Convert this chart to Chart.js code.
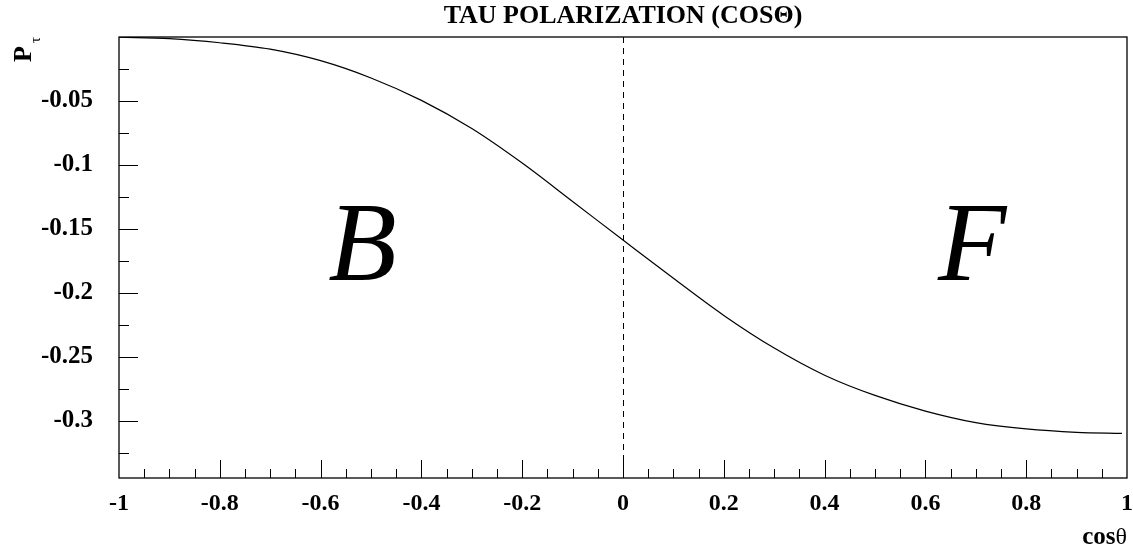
<!DOCTYPE html>
<html>
<head>
<meta charset="utf-8">
<title>Tau polarization</title>
<script src="https://cdn.jsdelivr.net/npm/chart.js@4/dist/chart.umd.min.js"></script>
<style>
  html, body { margin: 0; padding: 0; background: #fff; }
</style>
</head>
<body>
<canvas id="polChart" width="1133" height="552"></canvas>
<script>
// P_tau as a function of cos(theta)
const cosTheta = [-1, -0.9, -0.8, -0.7, -0.6, -0.5, -0.4, -0.3, -0.2, -0.1, 0,
                  0.1, 0.2, 0.3, 0.4, 0.5, 0.6, 0.7, 0.8, 0.9, 0.99];
const polarization = [-0.0002, -0.0013, -0.0045, -0.0095, -0.0185, -0.0320, -0.0495, -0.0715, -0.0985, -0.1285, -0.1586,
                      -0.1885, -0.2175, -0.2430, -0.2642, -0.2800, -0.2922, -0.3012, -0.3062, -0.3088, -0.3096];

const xTicks = [-1, -0.8, -0.6, -0.4, -0.2, 0, 0.2, 0.4, 0.6, 0.8, 1];
const xTickLabels = ["-1", "-0.8", "-0.6", "-0.4", "-0.2", "0", "0.2", "0.4", "0.6", "0.8", "1"];
const yTicks = [-0.05, -0.1, -0.15, -0.2, -0.25, -0.3];
const yTickLabels = ["-0.05", "-0.1", "-0.15", "-0.2", "-0.25", "-0.3"];

const SERIF = "'Liberation Serif', 'Times New Roman', serif";
const X_MIN = -1, X_MAX = 1, Y_MIN = -0.3445, Y_MAX = 0;

// frame, inward ticks, dashed zero line and the text around the plot
const framePlugin = {
  id: "frame",
  afterDatasetsDraw(chart) {
    const { ctx, chartArea: a, scales } = chart;
    const xs = scales.x, ys = scales.y;
    ctx.save();
    ctx.strokeStyle = "#000";

    // dashed line at cos = 0
    const x0 = Math.round(xs.getPixelForValue(0)) + 0.5;
    ctx.lineWidth = 1;
    ctx.setLineDash([6, 5]);
    ctx.beginPath();
    ctx.moveTo(x0, a.top);
    ctx.lineTo(x0, a.bottom);
    ctx.stroke();
    ctx.setLineDash([]);

    // box
    ctx.lineWidth = 1.3;
    ctx.strokeRect(a.left, a.top, a.right - a.left, a.bottom - a.top);

    // x ticks: major every 0.2, minor every 0.05
    ctx.lineWidth = 1;
    ctx.beginPath();
    for (let i = 1; i < 40; i++) {
      const v = -1 + i * 0.05;
      const px = Math.round(xs.getPixelForValue(v)) + 0.5;
      const len = i % 4 === 0 ? 18 : 9;
      ctx.moveTo(px, a.bottom);
      ctx.lineTo(px, a.bottom - len);
    }
    // y ticks: major every 0.05, minor every 0.025
    for (let i = 1; i <= 13; i++) {
      const v = -i * 0.025;
      const py = Math.round(ys.getPixelForValue(v)) + 0.5;
      const len = i % 2 === 0 ? 19 : 10;
      ctx.moveTo(a.left, py);
      ctx.lineTo(a.left + len, py);
    }
    ctx.stroke();

    ctx.fillStyle = "#000";

    // title
    ctx.font = "bold 26px " + SERIF;
    ctx.textAlign = "center";
    ctx.textBaseline = "alphabetic";
    ctx.fillText("TAU POLARIZATION (COSΘ)", (a.left + a.right) / 2, 23);

    // x axis title
    ctx.textAlign = "right";
    ctx.font = "24px " + SERIF;
    const thetaW = ctx.measureText("θ").width;
    ctx.fillText("θ", a.right, 544);
    ctx.font = "bold 25px " + SERIF;
    ctx.fillText("cos", a.right - thetaW, 544);

    // y axis title, rotated
    ctx.save();
    ctx.translate(31, 62);
    ctx.rotate(-Math.PI / 2);
    ctx.textAlign = "left";
    ctx.font = "bold 26px " + SERIF;
    ctx.fillText("P", 0, 0);
    ctx.font = "15px " + SERIF;
    ctx.fillText("τ", 19, 9);
    ctx.restore();

    // backward / forward hemisphere letters
    ctx.font = "italic 112px " + SERIF;
    ctx.textAlign = "left";
    const yLetters = ys.getPixelForValue(-0.19);
    ctx.fillText("B", xs.getPixelForValue(-0.585), yLetters);
    ctx.fillText("F", xs.getPixelForValue(0.625), yLetters);

    ctx.restore();
  }
};

const ctx = document.getElementById("polChart").getContext("2d");

new Chart(ctx, {
  type: "line",
  data: {
    datasets: [{
      data: cosTheta.map((c, i) => ({ x: c, y: polarization[i] })),
      borderColor: "#000",
      borderWidth: 1.2,
      pointRadius: 0,
      fill: false,
      cubicInterpolationMode: "monotone"
    }]
  },
  options: {
    responsive: false,
    devicePixelRatio: 1,
    animation: false,
    layout: { padding: { top: 37, right: 6, left: 0, bottom: 0 } },
    plugins: {
      legend: { display: false },
      tooltip: { enabled: false },
      title: { display: false }
    },
    scales: {
      x: {
        type: "linear",
        min: X_MIN,
        max: X_MAX,
        afterBuildTicks: s => { s.ticks = xTicks.map(v => ({ value: v })); },
        afterFit: s => { s.height = 74; s.paddingLeft = 0; s.paddingRight = 0; },
        ticks: {
          callback: (v, i) => xTickLabels[i],
          color: "#000",
          font: { family: SERIF, weight: "bold", size: 24 },
          padding: 11,
          maxRotation: 0,
          autoSkip: false
        },
        grid: { display: false, drawTicks: false },
        border: { display: false }
      },
      y: {
        type: "linear",
        min: Y_MIN,
        max: Y_MAX,
        afterBuildTicks: s => { s.ticks = yTicks.map(v => ({ value: v })); },
        afterFit: s => { s.width = 119; s.paddingTop = 0; s.paddingBottom = 0; },
        ticks: {
          callback: (v, i) => yTickLabels[i],
          color: "#000",
          font: { family: SERIF, weight: "bold", size: 25 },
          padding: 26,
          autoSkip: false
        },
        grid: { display: false, drawTicks: false },
        border: { display: false }
      }
    }
  },
  plugins: [framePlugin]
});
</script>
</body>
</html>
